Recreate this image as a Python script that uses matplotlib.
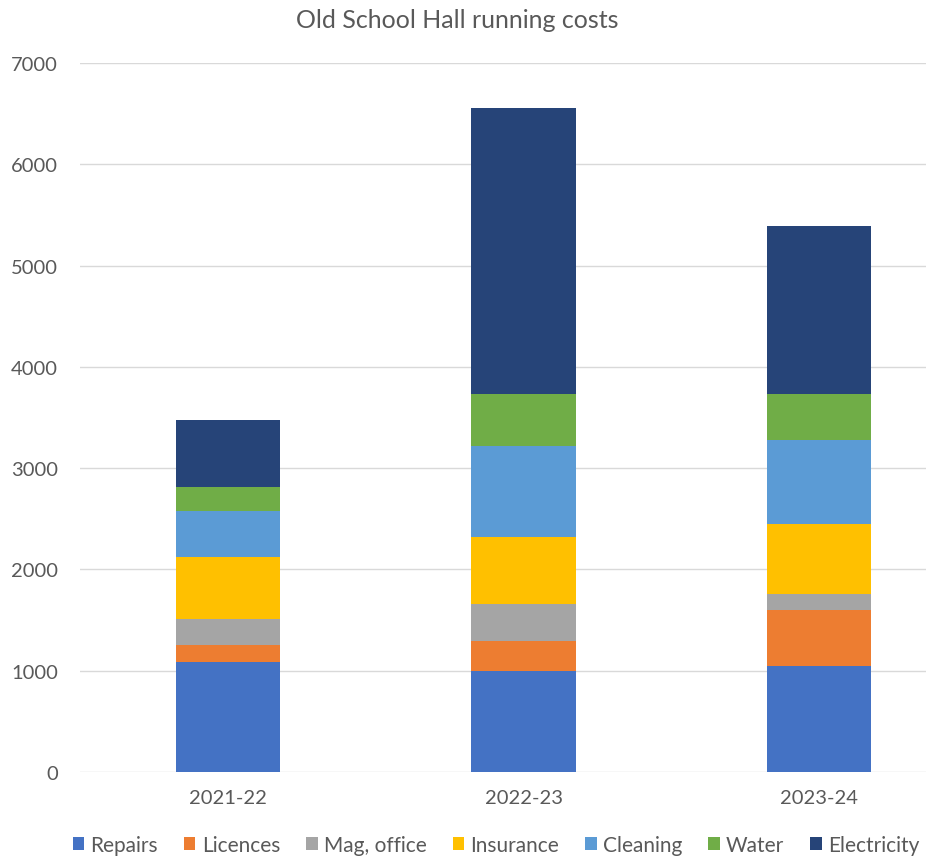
import matplotlib.pyplot as plt
import numpy as np

plt.rcParams['font.family'] = ['Lato', 'DejaVu Sans']

years = ["2021-22", "2022-23", "2023-24"]
series = ["Repairs", "Licences", "Mag, office", "Insurance", "Cleaning", "Water", "Electricity"]
repairs = [1090, 1000, 1050]
licences = [160, 290, 545]
mag_office = [265, 365, 158]
insurance = [610, 670, 700]
cleaning = [455, 895, 828]
water = [235, 512, 453]
electricity = [660, 2828, 1655]

colors = ["#4472C4", "#ED7D31", "#A5A5A5", "#FFC000", "#5B9BD5", "#70AD47", "#264478"]
values = [repairs, licences, mag_office, insurance, cleaning, water, electricity]

fig = plt.figure(figsize=(9.26, 8.62), dpi=100)
ax = fig.add_axes([80 / 926, 1 - 773 / 862, 887 / 926, 709 / 862])

x = np.arange(len(years))
bottom = np.zeros(len(years))
for name, vals, c in zip(series, values, colors):
    ax.bar(x, vals, width=0.352, bottom=bottom, color=c, label=name, zorder=3)
    bottom += np.array(vals)

ax.set_xlim(-0.5, 2.5)
ax.set_ylim(0, 7000)
ax.set_yticks(range(0, 7001, 1000))
ax.set_xticks(x)
ax.set_xticklabels(years)
ax.grid(axis='y', color='#D9D9D9', linewidth=1, zorder=0)
for s in ax.spines.values():
    s.set_visible(False)
ax.tick_params(length=0, labelsize=14.5, colors='#595959')
ax.tick_params(axis='x', pad=12)
ax.tick_params(axis='y', pad=16)

fig.text(457 / 926, 1 - 20 / 862, "Old School Hall running costs", ha='center', va='center',
         fontsize=18, color='#595959')

leg = fig.legend(loc='center', bbox_to_anchor=(496 / 926, 1 - 846 / 862), ncol=7, frameon=False,
                 fontsize=15, handlelength=0.55, handleheight=0.55, handletextpad=0.3,
                 columnspacing=1.25, labelcolor='#595959')

fig.savefig("out.png", dpi=100)
